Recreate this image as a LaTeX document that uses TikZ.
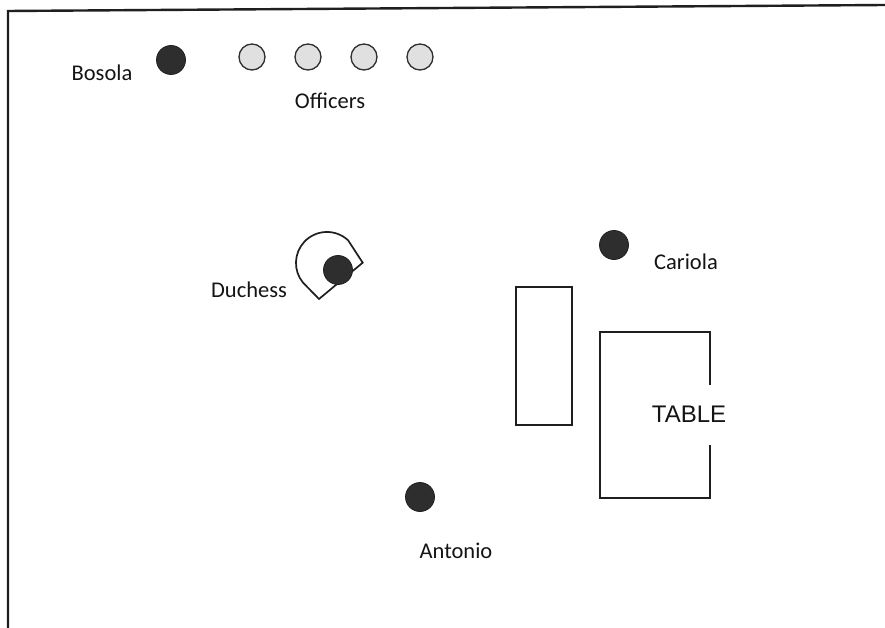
\documentclass[tikz,border=0pt]{standalone}
\usepackage{fontspec}
\setmainfont{Carlito}
\newfontfamily\tablefont{Liberation Sans}
\begin{document}
\begin{tikzpicture}[x=1pt,y=-1pt,
  person/.style={circle,fill=black!82,draw=black!88,line width=0.8pt,minimum size=29pt,inner sep=0pt},
  officer/.style={circle,fill=black!12,draw=black!82,line width=1.3pt,minimum size=26pt,inner sep=0pt},
  lbl/.style={font=\fontsize{22.5}{24}\selectfont,text=black!92,inner sep=0pt},
  furn/.style={draw=black!88,line width=1.7pt}]
\useasboundingbox[fill=white] (0,0) rectangle (885,628);
% border
\draw[line width=2.4pt,black!88] (8,628) -- (8,11) -- (885,5);
% Bosola and officers
\node[person] (bosola) at (171,60) {};
\node[lbl] (bosolaL) at (102,73) {Bosola};
\node[officer] (o1) at (252,57) {};
\node[officer] (o2) at (308,57) {};
\node[officer] (o3) at (364,57) {};
\node[officer] (o4) at (420,57) {};
\node[lbl] (officersL) at (330,101) {Officers};
% Duchess
\draw[furn,fill=white] (348.1,240.3) arc[start angle=-47,end angle=-219,radius=31] -- (319,299) -- (362.7,262.7) -- cycle;
\node[person] (duchess) at (338,270) {};
\node[lbl] (duchessL) at (249,290) {Duchess};
% Cariola
\node[person] (cariola) at (614,245) {};
\node[lbl] (cariolaL) at (686,262) {Cariola};
% Antonio
\node[person] (antonio) at (420,497) {};
\node[lbl] (antonioL) at (456,551) {Antonio};
% bench
\draw[furn] (516,287) rectangle (572,425);
% table
\draw[furn] (710,385) -- (710,332) -- (600,332) -- (600,498) -- (710,498) -- (710,445);
\node[font=\tablefont\fontsize{24}{26}\selectfont,text=black!92,inner sep=0pt] (tableL) at (689,414) {TABLE};
\end{tikzpicture}
\end{document}
